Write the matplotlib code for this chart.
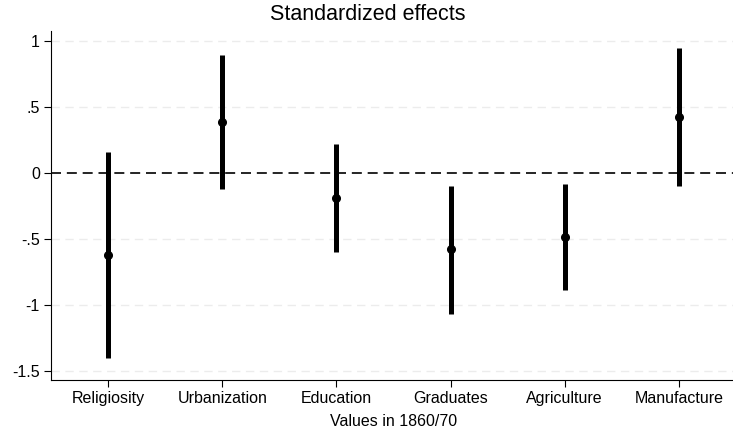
import matplotlib.pyplot as plt

plt.rcParams['font.family'] = ['Liberation Sans', 'DejaVu Sans']

# estimates and confidence bounds
names = ['Religiosity', 'Urbanization', 'Education', 'Graduates', 'Agriculture', 'Manufacture']
coef = [-0.621, 0.382, -0.189, -0.580, -0.487, 0.420]
lower = [-1.404, -0.123, -0.601, -1.068, -0.891, -0.103]
upper = [0.159, 0.892, 0.217, -0.098, -0.086, 0.942]
yticks = [1, 0.5, 0, -0.5, -1, -1.5]
ylabels = ['1', '.5', '0', '-.5', '-1', '-1.5']

W, H = 733, 432
fig = plt.figure(figsize=(W / 100, H / 100), dpi=100)
ax = fig.add_axes([51 / W, 1 - 380 / H, (736 - 51) / W, (380 - 31) / H])

xs = list(range(1, len(names) + 1))
for y in yticks:
    if y != 0:
        ax.axhline(y, color='#ececec', lw=1, ls=(0, (6, 4)), zorder=0)
ax.axhline(0, color='black', lw=1.2, ls=(0, (6, 3.5)), zorder=1)

ax.vlines(xs, lower, upper, color='black', lw=3.6, zorder=2)
ax.plot(xs, coef, 'o', color='black', ms=5.5, zorder=3)

ax.set_xlim(0.5, 6.5)
ax.set_ylim(-1.57, 1.073)
ax.set_xticks(xs)
ax.set_xticklabels(names, fontsize=11.5)
ax.set_yticks(yticks)
ax.set_yticklabels(ylabels, fontsize=11.5)
ax.tick_params(direction='out', length=5, width=0.8, pad=3)
ax.spines['top'].set_visible(False)
ax.spines['right'].set_visible(False)
ax.spines['left'].set_linewidth(0.8)
ax.spines['bottom'].set_linewidth(0.8)
ax.set_xlabel('Values in 1860/70', fontsize=11.5, labelpad=6)
fig.text(368 / W, 1 - 15 / H, 'Standardized effects', fontsize=15.5, ha='center', va='center')

fig.savefig('out.png', dpi=100)
